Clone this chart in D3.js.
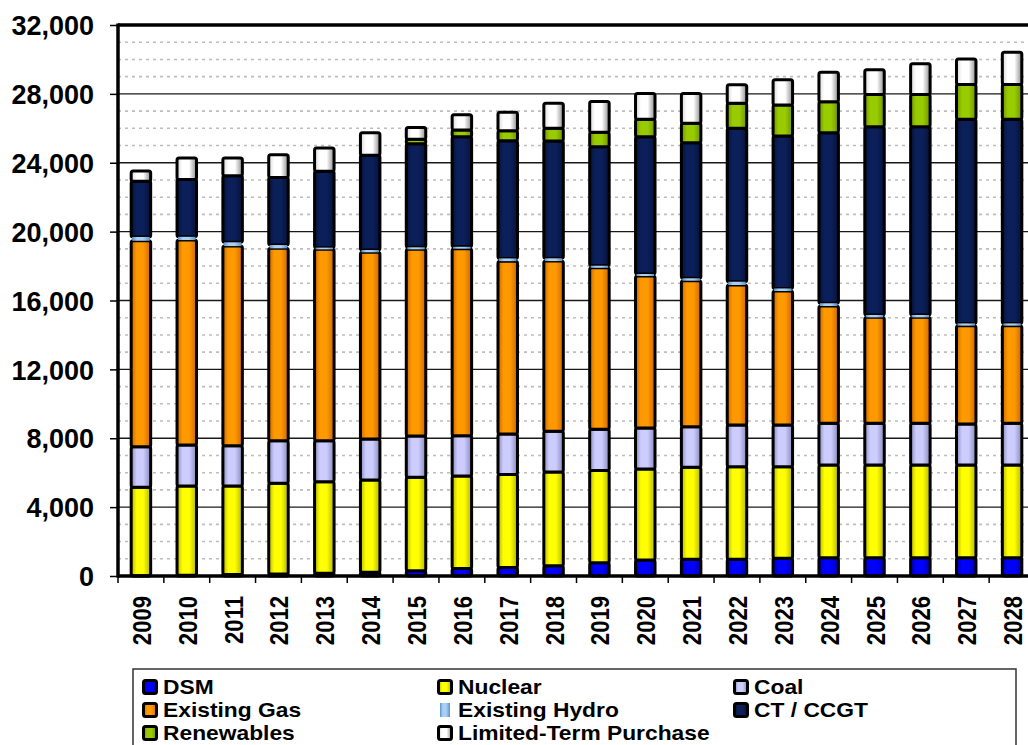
<!DOCTYPE html>
<html>
<head>
<meta charset="utf-8">
<script src="https://cdn.jsdelivr.net/npm/d3@7"></script>
<style>
  html, body { margin: 0; padding: 0; background: #fff; }
  svg { display: block; }
  text { font-family: "Liberation Sans", Arial, sans-serif; font-weight: bold; fill: #000; }
</style>
</head>
<body>
<svg id="chart" width="1028" height="745"></svg>
<script>
// ---------------- DATA ----------------
const years = ["2009","2010","2011","2012","2013","2014","2015","2016","2017","2018",
               "2019","2020","2021","2022","2023","2024","2025","2026","2027","2028"];
const dsm        = [20,50,80,120,160,220,300,440,500,600,770,930,970,970,1030,1060,1060,1060,1060,1060];
const nuclear    = [5130,5180,5150,5260,5320,5355,5430,5370,5400,5440,5350,5280,5340,5380,5320,5390,5390,5390,5390,5390];
const coal       = [2360,2380,2340,2480,2380,2380,2400,2340,2340,2360,2400,2380,2360,2420,2420,2420,2420,2420,2380,2420];
const existingGas= [11960,11900,11590,11170,11110,10845,10840,10860,10045,9890,9380,8830,8480,8130,7780,6810,6150,6150,5710,5670];
const existingHydro=[220,190,220,190,100,130,120,110,160,160,120,120,140,190,150,160,140,140,130,130];
const ctCcgt     = [3230,3330,3870,3930,4430,5500,6020,6390,6830,6810,6910,7970,7870,8910,8850,9900,10930,10930,11850,11850];
const renewables = [0,0,0,0,0,0,250,390,580,740,840,1010,1130,1450,1800,1800,1880,1880,2030,2030];
const limitedTerm= [600,1240,1020,1320,1350,1310,690,890,1080,1460,1790,1500,1730,1080,1470,1710,1430,1780,1470,1870];

const seriesKeys  = ["DSM","Nuclear","Coal","Existing Gas","Existing Hydro","CT / CCGT","Renewables","Limited-Term Purchase"];
const seriesData  = [dsm, nuclear, coal, existingGas, existingHydro, ctCcgt, renewables, limitedTerm];
const legendOrder = ["DSM","Nuclear","Coal","Existing Gas","Existing Hydro","CT / CCGT","Renewables","Limited-Term Purchase"];
const yTicks = [0,4000,8000,12000,16000,20000,24000,28000,32000];

(function () {
// ---------------- STYLE ----------------
const colors = {
  "DSM":                   ["#0000FF", "#0000A8"],
  "Nuclear":               ["#FFFF00", "#B5B500"],
  "Coal":                  ["#CCCCFF", "#8A8AB8"],
  "Existing Gas":          ["#FF9900", "#CC6600"],
  "Existing Hydro":        ["#A8D0F5", "#5F92C8"],
  "CT / CCGT":             ["#0B1F5A", "#061238"],
  "Renewables":            ["#99CC00", "#6E9300"],
  "Limited-Term Purchase": ["#FFFFFF", "#8C8C8C"]
};

const svg = d3.select("#chart");
const defs = svg.append("defs");
seriesKeys.forEach((k, i) => {
  const g = defs.append("linearGradient").attr("id", "grad" + i)
    .attr("x1", "0%").attr("x2", "100%").attr("y1", "0%").attr("y2", "0%");
  const [base, dark] = colors[k];
  const light = k === "Limited-Term Purchase" ? "#D8D8D8" : dark;
  g.append("stop").attr("offset", "0%").attr("stop-color", light);
  g.append("stop").attr("offset", "28%").attr("stop-color", base);
  g.append("stop").attr("offset", "62%").attr("stop-color", base);
  g.append("stop").attr("offset", "100%").attr("stop-color", dark);
});

// ---------------- SCALES ----------------
const pL = 118, pR = 1035, pT = 25, pB = 576;
const x = d3.scaleBand().domain(years).range([pL, pR]).paddingInner(0.575).paddingOuter(0.2875);
const y = d3.scaleLinear().domain([0, 32000]).range([pB, pT]);

// ---------------- GRID ----------------
const grid = svg.append("g");
d3.range(1000, 32000, 1000).forEach(v => {
  const major = v % 4000 === 0;
  grid.append("line")
    .attr("x1", pL).attr("x2", 1028)
    .attr("y1", y(v)).attr("y2", y(v))
    .attr("stroke", major ? "#1a1a1a" : "#BDBDBD")
    .attr("stroke-width", major ? 1.4 : 1.6)
    .attr("stroke-dasharray", major ? null : "3,4");
});
svg.append("line").attr("x1", pL).attr("x2", 1028).attr("y1", y(32000)).attr("y2", y(32000))
  .attr("stroke", "#000").attr("stroke-width", 3.5);

// ---------------- BARS ----------------
const rows = years.map((yr, i) => {
  const o = { year: yr };
  seriesKeys.forEach((k, j) => o[k] = seriesData[j][i]);
  return o;
});
const stacked = d3.stack().keys(seriesKeys)(rows);

const barsG = svg.append("g");
stacked.forEach((layer, li) => {
  if (layer.key === "Existing Hydro") return;
  barsG.append("g").selectAll("rect")
    .data(layer.filter(d => d[1] - d[0] > 0))
    .join("rect")
    .attr("x", d => x(d.data.year))
    .attr("width", x.bandwidth())
    .attr("y", d => y(d[1]))
    .attr("height", d => y(d[0]) - y(d[1]))
    .attr("rx", 2).attr("ry", 2)
    .attr("fill", "url(#grad" + li + ")")
    .attr("stroke", "#000")
    .attr("stroke-width", 3);
});
const hIdx = seriesKeys.indexOf("Existing Hydro");
barsG.append("g").selectAll("rect")
  .data(stacked[hIdx])
  .join("rect")
  .attr("x", d => x(d.data.year) + 1)
  .attr("width", x.bandwidth() - 2)
  .attr("y", d => y(d[1]))
  .attr("height", d => y(d[0]) - y(d[1]))
  .attr("fill", "url(#grad" + hIdx + ")");

// ---------------- AXES ----------------
const yAxis = svg.append("g").attr("transform", `translate(${pL},0)`)
  .call(d3.axisLeft(y).tickValues(yTicks).tickFormat(d3.format(",")).tickSize(8).tickPadding(16));
yAxis.select(".domain").remove();
yAxis.selectAll(".tick line").attr("stroke", "#000").attr("stroke-width", 1.5);
yAxis.selectAll(".tick text").attr("font-size", 27).attr("font-weight", "bold")
  .attr("font-family", "'Liberation Sans', Arial, sans-serif").attr("dy", "0.36em");

svg.append("line").attr("x1", pL).attr("x2", pL).attr("y1", pT - 1.5).attr("y2", pB + 1.5)
  .attr("stroke", "#000").attr("stroke-width", 3.5);
svg.append("line").attr("x1", pL).attr("x2", 1028).attr("y1", pB).attr("y2", pB)
  .attr("stroke", "#000").attr("stroke-width", 3.5);

const step = x.step();
const xt = svg.append("g");
d3.range(0, years.length + 1).forEach(i => {
  const xx = pL + i * step;
  xt.append("line").attr("x1", xx).attr("x2", xx).attr("y1", pB).attr("y2", pB + 7)
    .attr("stroke", "#000").attr("stroke-width", 1.5);
});
svg.append("g").selectAll("text")
  .data(years)
  .join("text")
  .attr("transform", d => `translate(${x(d) + x.bandwidth() / 2 + 10},596) rotate(-90) scale(0.85,1)`)
  .attr("text-anchor", "end")
  .attr("font-size", 26)
  .text(d => d);

// ---------------- LEGEND ----------------
const lg = svg.append("g");
lg.append("rect").attr("x", 133).attr("y", 669).attr("width", 883).attr("height", 100)
  .attr("fill", "#fff").attr("stroke", "#333").attr("stroke-width", 1.5);
const colX = [142, 437, 733];
const rowY = [687, 710, 733];
legendOrder.forEach((k, i) => {
  const c = i % 3, r = Math.floor(i / 3);
  const gi = seriesKeys.indexOf(k);
  const gx = colX[c], gy = rowY[r];
  if (k === "Existing Hydro") {
    lg.append("rect").attr("x", gx + 3).attr("y", gy - 7).attr("width", 10).attr("height", 14)
      .attr("fill", "url(#grad" + gi + ")");
  } else {
    lg.append("rect").attr("x", gx + 1.5).attr("y", gy - 6.5).attr("width", 13).attr("height", 13)
      .attr("rx", 2).attr("fill", "url(#grad" + gi + ")")
      .attr("stroke", "#000").attr("stroke-width", 3);
  }
  lg.append("text")
    .attr("transform", `translate(${gx + 21},${gy}) scale(1.14,1)`)
    .attr("dy", "0.36em")
    .attr("font-size", 20).text(k);
});
})();
</script>
</body>
</html>
